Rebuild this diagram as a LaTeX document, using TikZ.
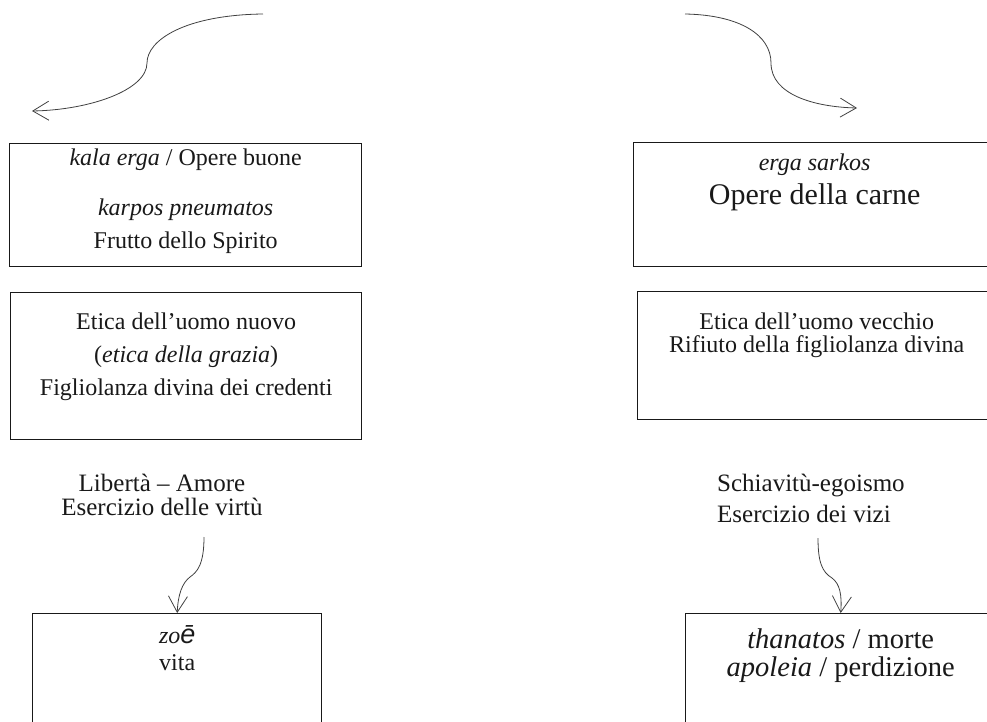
\documentclass[tikz,border=0pt]{standalone}
\usepackage{fontspec}
\setmainfont{Liberation Serif}
\newfontfamily\grecafont{Liberation Sans}
\usetikzlibrary{arrows.meta,positioning}
\tikzset{
  box/.style={draw=black!90, line width=1.4pt, rectangle, anchor=north west, inner sep=0pt},
  txt/.style={align=center, inner sep=0pt, text=black!90, font=\fontsize{24}{33}\selectfont},
  lbl/.style={align=center, inner sep=0pt, text=black!90, font=\fontsize{25}{24}\selectfont},
  curva/.style={draw=black!75, line width=0.8pt, -{Straight Barb[length=16pt,width=19pt]}},
}
\begin{document}
\begin{tikzpicture}[x=1pt,y=-1pt]
\useasboundingbox (0,0) rectangle (987,722);
\clip (0,0) rectangle (987,722);
% colonna di sinistra
\node[box, minimum width=352pt, minimum height=123pt] (buone) at (9,143) {};
\node[box, minimum width=351pt, minimum height=147pt] (nuovo) at (10,292) {};
\node[box, minimum width=289pt, minimum height=150pt] (vita) at (32,613) {};
\node[txt, below=6pt of buone.north] (buonetxt) {\textit{kala erga} / Opere buone\\[17pt]\textit{karpos pneumatos}\\Frutto dello Spirito};
\node[txt, below=21pt of nuovo.north] (nuovotxt) {Etica dell’uomo nuovo\\(\textit{etica della grazia})\\Figliolanza divina dei credenti};
\node[txt, font=\fontsize{24}{27}\selectfont, below=12pt of vita.north] (vitatxt) {\textit{zo}{\grecafont\itshape\fontsize{27}{27}\selectfont ē}\\vita};
\node[lbl] (liberta) at (162,495) {Libertà – Amore\\Esercizio delle virtù};
% colonna di destra
\node[box, minimum width=362pt, minimum height=124pt] (carne) at (633,142) {};
\node[box, minimum width=358pt, minimum height=128pt] (vecchio) at (637,291) {};
\node[box, minimum width=310pt, minimum height=150pt] (morte) at (685,613) {};
\node[txt, below=12pt of carne.north] (carnetxt) {\textit{erga sarkos}\\[1pt]{\fontsize{30}{33}\selectfont Opere della carne}};
\node[txt, font=\fontsize{24}{23}\selectfont, below=22pt of vecchio.north] (vecchiotxt) {Etica dell’uomo vecchio\\Rifiuto della figliolanza divina};
\node[txt, font=\fontsize{28.5}{28}\selectfont, below=16pt of morte.north] (mortetxt) {\textit{thanatos} / morte\\\textit{apoleia} / perdizione};
\node[lbl, font=\fontsize{25}{31}\selectfont, align=left, anchor=west] (schiav) at (717,498) {Schiavitù-egoismo\\Esercizio dei vizi};
% frecce
\coordinate (cimasx) at (263,14);
\coordinate (puntasx) at (32,111);
\coordinate (cimadx) at (685,14);
\coordinate (puntadx) at (857,108);
\coordinate (virtu) at (204,537);
\coordinate (vizi) at (818,538);
\draw[curva] (cimasx) .. controls (185,15) and (147,40) .. (147,63) .. controls (147,90) and (90,110) .. (puntasx);
\draw[curva] (cimadx) .. controls (740,15) and (771,35) .. (771,63) .. controls (771,95) and (815,107) .. (puntadx);
\draw[curva] (virtu) .. controls (204,565) and (197,572) .. (190,577) .. controls (182,583) and (178,595) .. (vita.north);
\draw[curva] (vizi) .. controls (818,562) and (822,572) .. (832,578) .. controls (840,584) and (842,595) .. (morte.north);
\end{tikzpicture}
\end{document}
